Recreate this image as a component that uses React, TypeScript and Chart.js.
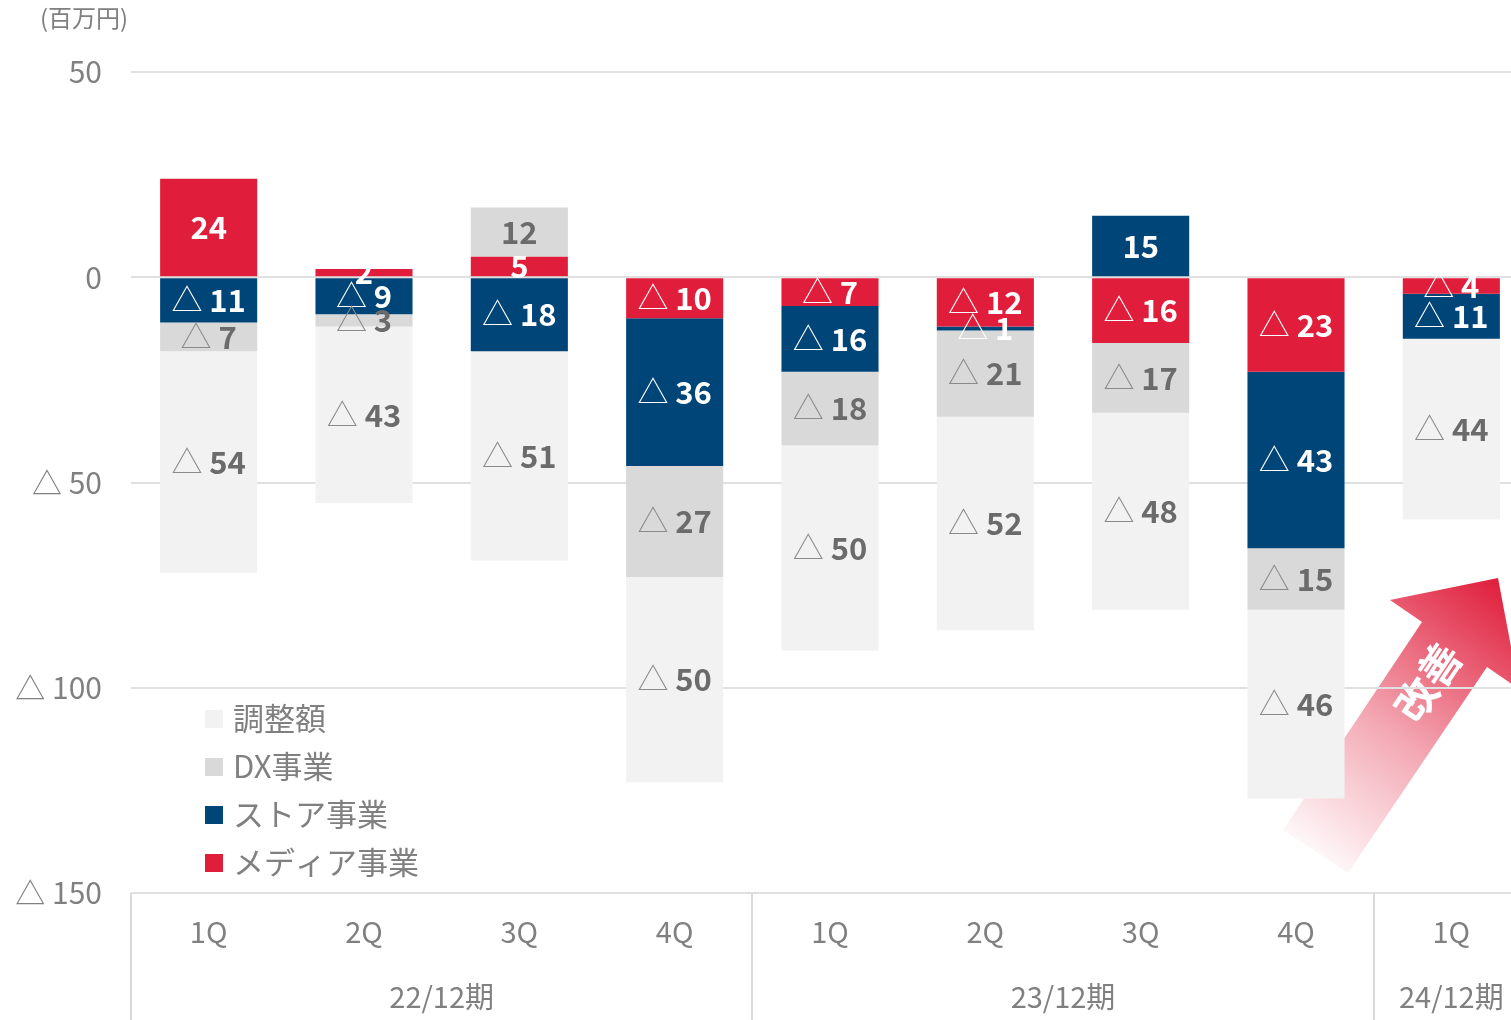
import React, { useEffect, useRef } from "react";
import { Chart, registerables } from "chart.js";

Chart.register(...registerables);

const categories = ["1Q", "2Q", "3Q", "4Q", "1Q", "2Q", "3Q", "4Q", "1Q"];
const periods = ["22/12期", "23/12期", "24/12期"];
const periodSizes = [4, 4, 1];

const mediaValues = [24, 2, 5, -10, -7, -12, -16, -23, -4];
const storeValues = [-11, -9, -18, -36, -16, -1, 15, -43, -11];
const dxValues = [-7, -3, 12, -27, -18, -21, -17, -15, 0];
const adjustValues = [-54, -43, -51, -50, -50, -52, -48, -46, -44];

const seriesNames = ["メディア事業", "ストア事業", "DX事業", "調整額"];
const seriesColors = ["#E01E3C", "#004577", "#D9D9D9", "#F2F2F2"];
const labelColors = ["#FFFFFF", "#FFFFFF", "#6B6B6B", "#6B6B6B"];
const triColors = ["#FFFFFF", "#FFFFFF", "#8A8A8A", "#8A8A8A"];

const yTicks = [50, 0, -50, -100, -150];
const unitLabel = "(百万円)";
const arrowText = "改善";

const FONT = "'Noto Sans CJK JP', 'Noto Sans', sans-serif";

const fmt = (v: number) => (v < 0 ? "△ " + Math.abs(v) : String(v));

const arrowPlugin = {
  id: "arrowPlugin",
  beforeDraw(chart: any) {
    const ctx = chart.ctx;
    ctx.save();
    const g = ctx.createLinearGradient(1300, 860, 1505, 585);
    g.addColorStop(0, "rgba(224,30,60,0.0)");
    g.addColorStop(0.45, "rgba(224,30,60,0.38)");
    g.addColorStop(1, "rgba(224,30,60,1)");
    ctx.fillStyle = g;
    ctx.beginPath();
    ctx.moveTo(1283, 830);
    ctx.lineTo(1422, 622);
    ctx.lineTo(1390, 600);
    ctx.lineTo(1498, 578);
    ctx.lineTo(1519, 689);
    ctx.lineTo(1487, 667);
    ctx.lineTo(1348, 873);
    ctx.closePath();
    ctx.fill();
    ctx.translate(1428, 682);
    ctx.rotate(-56 * Math.PI / 180);
    ctx.fillStyle = "#FFFFFF";
    ctx.font = `bold 42px ${FONT}`;
    ctx.textAlign = "center";
    ctx.textBaseline = "middle";
    ctx.fillText(arrowText, 0, 0);
    ctx.restore();
  },
};

const decorPlugin = {
  id: "decorPlugin",
  afterDatasetsDraw(chart: any) {
    const ctx = chart.ctx;
    const xs = chart.scales.x;
    const area = chart.chartArea;
    ctx.save();
    // data labels
    chart.data.datasets.forEach((ds: any, di: number) => {
      const meta = chart.getDatasetMeta(di);
      meta.data.forEach((bar: any, i: number) => {
        const v = ds.data[i];
        if (!v) return;
        const cx = bar.x;
        const cy = (bar.y + bar.base) / 2;
        ctx.textBaseline = "middle";
        ctx.textAlign = "left";
        const numStr = String(Math.abs(v));
        ctx.font = `bold 31px ${FONT}`;
        const numW = ctx.measureText(numStr).width;
        if (v < 0) {
          ctx.font = `300 31px ${FONT}`;
          const triStr = "△ ";
          const triW = ctx.measureText(triStr).width;
          const total = triW + numW;
          const x0 = cx - total / 2;
          ctx.fillStyle = triColors[di];
          ctx.fillText(triStr, x0, cy - 1);
          ctx.font = `bold 31px ${FONT}`;
          ctx.fillStyle = labelColors[di];
          ctx.fillText(numStr, x0 + triW, cy);
        } else {
          ctx.fillStyle = labelColors[di];
          ctx.fillText(numStr, cx - numW / 2, cy);
        }
      });
    });
    // x category labels
    ctx.fillStyle = "#808080";
    ctx.textAlign = "center";
    ctx.textBaseline = "middle";
    ctx.font = `29px ${FONT}`;
    categories.forEach((c, i) => {
      ctx.fillText(c, xs.getPixelForValue(i), 932);
    });
    // period labels and separators
    ctx.strokeStyle = "#D9D9D9";
    ctx.lineWidth = 2;
    let start = 0;
    const half = (xs.getPixelForValue(1) - xs.getPixelForValue(0)) / 2;
    const drawSep = (x: number) => {
      ctx.beginPath();
      ctx.moveTo(x, area.bottom);
      ctx.lineTo(x, 1020);
      ctx.stroke();
    };
    drawSep(Math.round(xs.getPixelForValue(0) - half));
    periods.forEach((p, pi) => {
      const end = start + periodSizes[pi] - 1;
      const cx = (xs.getPixelForValue(start) + xs.getPixelForValue(end)) / 2;
      ctx.fillText(p, cx, 997);
      drawSep(Math.round(xs.getPixelForValue(end) + half));
      start = end + 1;
    });
    // unit label
    ctx.font = `24px ${FONT}`;
    ctx.textAlign = "left";
    ctx.fillText(unitLabel, 40, 18);
    // legend (reverse order)
    ctx.font = `31px ${FONT}`;
    ctx.textBaseline = "middle";
    const order = [3, 2, 1, 0];
    order.forEach((di, k) => {
      const y = 719 + k * 48;
      ctx.fillStyle = seriesColors[di];
      ctx.fillRect(205, y - 9, 18, 18);
      ctx.fillStyle = "#808080";
      ctx.fillText(seriesNames[di], 233, y - 1);
    });
    ctx.restore();
  },
};

export default function App() {
  const ref = useRef<HTMLCanvasElement | null>(null);
  useEffect(() => {
    if (!ref.current) return;
    const values = [mediaValues, storeValues, dxValues, adjustValues];
    const chart = new Chart(ref.current, {
      type: "bar",
      data: {
        labels: categories,
        datasets: values.map((vals, i) => ({
          label: seriesNames[i],
          data: vals,
          backgroundColor: seriesColors[i],
          borderWidth: 0,
          stack: "s",
          categoryPercentage: 1,
          barPercentage: 0.625,
        })),
      },
      options: {
        responsive: false,
        animation: false,
        devicePixelRatio: 1,
        layout: { padding: { top: 72, bottom: 127, left: 0, right: 0 } },
        plugins: { legend: { display: false }, tooltip: { enabled: false } },
        scales: {
          x: { display: false, stacked: true },
          y: {
            stacked: true,
            min: -150,
            max: 50,
            afterFit: (s: any) => {
              s.width = 131;
            },
            afterBuildTicks: (s: any) => {
              s.ticks = yTicks.map((v) => ({ value: v }));
            },
            border: { display: false },
            grid: { color: "#E0E0E0", lineWidth: 2, drawTicks: false },
            ticks: {
              padding: 29,
              color: "#808080",
              font: { size: 30, family: FONT },
              callback: (v: any) => fmt(Number(v)),
            },
          },
        },
      },
      plugins: [arrowPlugin, decorPlugin],
    });
    return () => chart.destroy();
  }, []);
  return (
    <div
      style={{
        position: "fixed",
        left: 0,
        top: 0,
        width: 1511,
        height: 1020,
        overflow: "hidden",
        background: "#fff",
      }}
    >
      <canvas ref={ref} width={1529} height={1020} style={{ display: "block" }} />
    </div>
  );
}
